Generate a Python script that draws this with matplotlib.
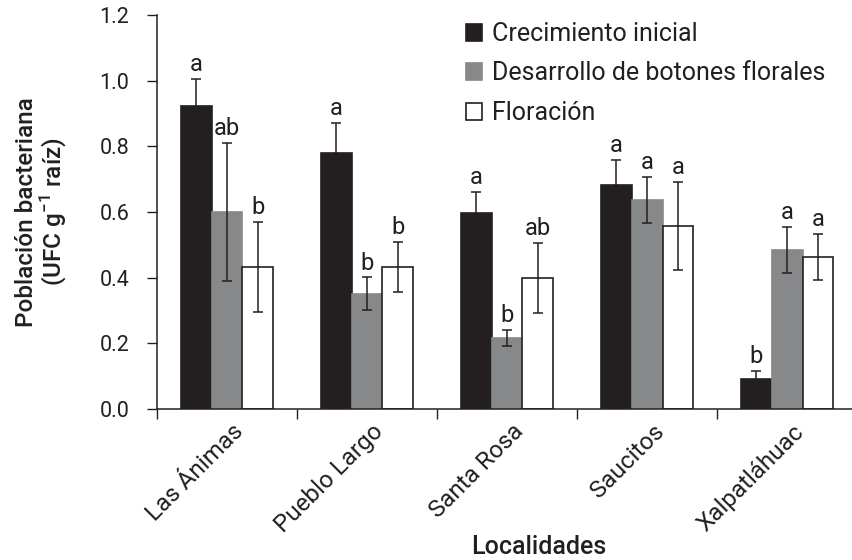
import matplotlib
matplotlib.use("Agg")
import matplotlib.pyplot as plt
import matplotlib.transforms as mtransforms
import numpy as np
from matplotlib.ticker import FixedLocator, NullFormatter

plt.rcParams['font.family'] = ['Roboto', 'DejaVu Sans']

localidades = ["Las Ánimas", "Pueblo Largo", "Santa Rosa", "Saucitos", "Xalpatláhuac"]
series_names = ["Crecimiento inicial", "Desarrollo de botones florales", "Floración"]

crecimiento = [0.924, 0.780, 0.597, 0.683, 0.091]
crecimiento_err = [0.081, 0.092, 0.065, 0.076, 0.025]
crecimiento_let = ["a", "a", "a", "a", "b"]

botones = [0.600, 0.351, 0.216, 0.637, 0.485]
botones_err = [0.210, 0.050, 0.025, 0.070, 0.070]
botones_let = ["ab", "b", "b", "a", "a"]

floracion = [0.433, 0.433, 0.399, 0.558, 0.463]
floracion_err = [0.137, 0.076, 0.107, 0.134, 0.070]
floracion_let = ["b", "b", "ab", "a", "a"]

values = [crecimiento, botones, floracion]
errors = [crecimiento_err, botones_err, floracion_err]
letters = [crecimiento_let, botones_let, floracion_let]
colors = ["#231f20", "#878889", "white"]
edges = ["#231f20", "#878889", "#231f20"]

fig = plt.figure(figsize=(8.53, 5.6), dpi=100)
ax = fig.add_axes([0.184, 0.2696, 0.816, 0.7034])

x = np.arange(len(localidades))
w = 0.22
text_color = "#231f20"
thin = 'normal'
for i in range(3):
    xs = x + (i - 1) * w
    ax.bar(xs, values[i], width=w, color=colors[i], edgecolor=edges[i],
           linewidth=1.2, label=series_names[i], zorder=2)
    ax.errorbar(xs, values[i], yerr=errors[i], fmt='none', ecolor=text_color,
                elinewidth=1.1, capsize=3.5, capthick=1.1, zorder=3)
    for xi, v, e, l in zip(xs, values[i], errors[i], letters[i]):
        ax.annotate(l, (xi, v + e), xytext=(0, 2), textcoords='offset points',
                    ha='center', va='bottom', fontsize=17, color=text_color,
                    fontweight=thin)

ax.set_ylim(0, 1.2)
ax.set_xlim(-0.5, 4.47)
ax.set_yticks(np.arange(0, 1.21, 0.2))
ax.set_yticklabels([f"{t:.1f}" for t in np.arange(0, 1.21, 0.2)],
                   fontsize=15.5, color=text_color, fontweight=thin)
ax.set_xticks(x)
ax.set_xticklabels(localidades, rotation=45, ha='right', va='top', rotation_mode='anchor',
                   fontsize=17.5, color=text_color, fontweight=thin)
ax.tick_params(axis='x', which='major', length=0, pad=8)
offset = mtransforms.ScaledTranslation(5 / 100, 0, fig.dpi_scale_trans)
for lab in ax.get_xticklabels():
    lab.set_transform(lab.get_transform() + offset)
ax.xaxis.set_minor_locator(FixedLocator(np.arange(-0.5, 5, 1.0)))
ax.xaxis.set_minor_formatter(NullFormatter())
ax.tick_params(axis='x', which='minor', length=7, width=1, color=text_color, direction='out')
ax.tick_params(axis='y', length=7, width=1, color=text_color, direction='out', pad=13)

for s in ['top', 'right']:
    ax.spines[s].set_visible(False)
for s in ['left', 'bottom']:
    ax.spines[s].set_color(text_color)
    ax.spines[s].set_linewidth(1.1)

ax.set_ylabel("Población bacteriana\n(UFC g$^{\\mathregular{-1}}$ raíz)", fontsize=17.5,
              fontweight='medium', color=text_color, linespacing=1.0)
ax.yaxis.set_label_coords(-0.127, 0.5)
ax.set_xlabel("Localidades", fontsize=18, fontweight='medium', color=text_color)
ax.xaxis.set_label_coords(0.548, -0.32)

leg = ax.legend(loc='upper left', bbox_to_anchor=(466 / 853, 1 - 22 / 560),
                bbox_transform=fig.transFigure, frameon=False, borderpad=0, borderaxespad=0,
                handlelength=0.65, handleheight=0.65, handletextpad=0.4,
                labelspacing=0.62, prop={'size': 18, 'weight': thin})
for t in leg.get_texts():
    t.set_color(text_color)

fig.savefig("out.png", dpi=100)
